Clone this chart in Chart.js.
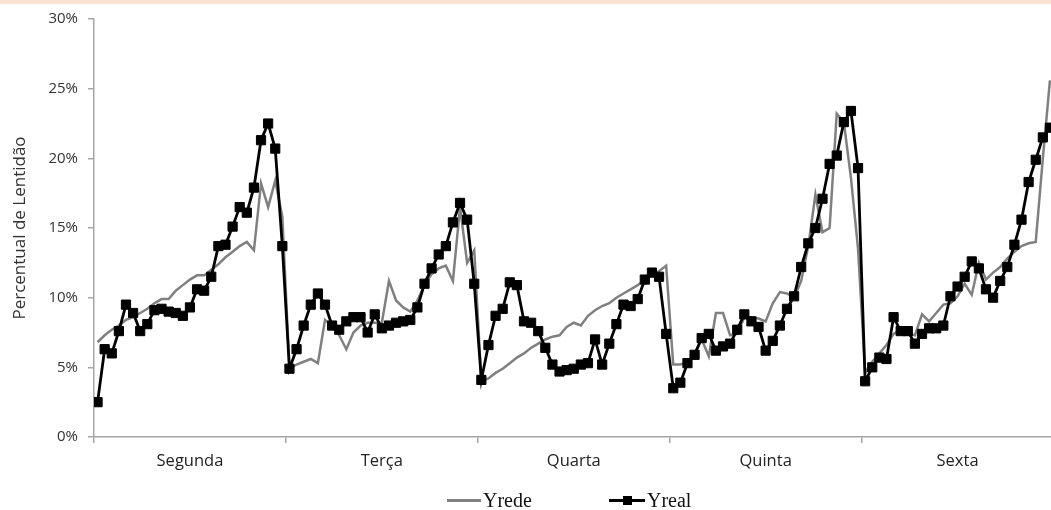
<!DOCTYPE html>
<html lang="pt">
<head>
<meta charset="UTF-8">
<title>Percentual de Lentidão</title>
<script src="https://cdn.jsdelivr.net/npm/chart.js"></script>
<style>
  html, body { margin: 0; padding: 0; background: #fff; overflow: hidden; }
  #band { position: absolute; left: 0; top: 0; width: 1051px; height: 4px; background: #fbe2d2; }
  #wrap { position: absolute; left: 0; top: 0; width: 1061px; height: 510px; }
  #legend { position: absolute; left: 0; top: 488px; width: 1051px; height: 24px;
            font-family: 'Liberation Serif', 'Times New Roman', serif; font-size: 20px; color: #111; }
  .item { position: absolute; top: 0; height: 24px; display: flex; align-items: center; }
  .swatch { position: relative; height: 3px; margin-right: 2px; }
  .swatch .mark { position: absolute; left: 14px; top: -3px; width: 9px; height: 9px; background: #000; }
</style>
</head>
<body>
<div id="band"></div>
<div id="wrap"><canvas id="chart" width="1061" height="510"></canvas></div>
<div id="legend">
  <div class="item" style="left:447px"><span class="swatch" style="width:34px;background:#808080"></span>Yrede</div>
  <div class="item" style="left:609px"><span class="swatch" style="width:36px;background:#000"><span class="mark"></span></span>Yreal</div>
</div>
<script>
// 27 readings per weekday, values in %
const days = ['Segunda', 'Terça', 'Quarta', 'Quinta', 'Sexta'];
const perDay = 27;
const yTicks = [0, 5, 10, 15, 20, 25, 30];

const yrede = [
  6.8, 7.3, 7.7, 8.0, 8.4, 8.6, 8.9, 9.2, 9.6, 9.9, 9.9, 10.5, 10.9, 11.3, 11.6, 11.6, 12.0, 12.4, 12.9, 13.3, 13.7, 14.0, 13.4, 18.2, 16.5, 18.4, 15.8,
  4.9, 5.2, 5.4, 5.6, 5.3, 8.4, 8.0, 7.3, 6.3, 7.5, 8.0, 8.2, 8.2, 8.2, 11.2, 9.8, 9.3, 9.0, 9.8, 10.9, 11.7, 12.1, 12.3, 11.2, 16.5, 12.5, 13.4,
  4.0, 4.2, 4.6, 4.9, 5.3, 5.7, 6.0, 6.4, 6.7, 7.0, 7.2, 7.3, 7.9, 8.2, 8.0, 8.7, 9.1, 9.4, 9.6, 10.0, 10.3, 10.6, 10.9, 11.3, 11.6, 11.9, 12.3,
  5.2, 5.2, 5.4, 6.0, 7.0, 5.8, 8.9, 8.9, 7.3, 7.4, 8.6, 8.6, 8.5, 8.3, 9.6, 10.4, 10.3, 10.0, 11.2, 13.7, 17.4, 14.7, 15.0, 23.2, 22.6, 18.6, 13.5,
  4.6, 5.4, 6.0, 6.6, 7.4, 7.7, 7.4, 7.3, 8.8, 8.3, 8.9, 9.5, 9.6, 10.1, 11.0, 10.2, 12.5, 11.3, 11.8, 12.2, 12.8, 13.3, 13.7, 13.9, 14.0, 20.0, 25.6
];

const yreal = [
  2.5, 6.3, 6.0, 7.6, 9.5, 8.9, 7.6, 8.1, 9.1, 9.2, 9.0, 8.9, 8.7, 9.3, 10.6, 10.5, 11.5, 13.7, 13.8, 15.1, 16.5, 16.1, 17.9, 21.3, 22.5, 20.7, 13.7,
  4.9, 6.3, 8.0, 9.5, 10.3, 9.5, 8.0, 7.7, 8.3, 8.6, 8.6, 7.5, 8.8, 7.8, 8.0, 8.2, 8.3, 8.4, 9.3, 11.0, 12.1, 13.1, 13.7, 15.4, 16.8, 15.6, 11.0,
  4.1, 6.6, 8.7, 9.2, 11.1, 10.9, 8.3, 8.2, 7.6, 6.4, 5.2, 4.7, 4.8, 4.9, 5.2, 5.3, 7.0, 5.2, 6.7, 8.1, 9.5, 9.4, 9.9, 11.3, 11.8, 11.5, 7.4,
  3.5, 3.9, 5.3, 5.9, 7.1, 7.4, 6.2, 6.5, 6.7, 7.7, 8.8, 8.3, 7.9, 6.2, 6.9, 8.0, 9.2, 10.1, 12.2, 13.9, 15.0, 17.1, 19.6, 20.2, 22.6, 23.4, 19.3,
  4.0, 5.0, 5.7, 5.6, 8.6, 7.6, 7.6, 6.7, 7.4, 7.8, 7.8, 8.0, 10.1, 10.8, 11.5, 12.6, 12.1, 10.6, 10.0, 11.2, 12.2, 13.8, 15.6, 18.3, 19.9, 21.5, 22.2
];

const toPoints = arr => arr.map((v, i) => ({ x: i, y: v }));
const axisGray = '#a6a6a6';
const sansFont = "'Open Sans', 'Noto Sans', sans-serif";

new Chart(document.getElementById('chart'), {
  type: 'line',
  data: {
    datasets: [{
      label: 'Yrede',
      data: toPoints(yrede),
      borderColor: '#808080',
      borderWidth: 2.5,
      pointRadius: 0,
      order: 1
    }, {
      label: 'Yreal',
      data: toPoints(yreal),
      borderColor: '#000',
      backgroundColor: '#000',
      borderWidth: 2.8,
      pointStyle: 'rect',
      pointRadius: 6.5,
      pointBorderWidth: 1,
      order: 0
    }]
  },
  options: {
    responsive: false,
    animation: false,
    devicePixelRatio: 1,
    layout: { padding: { top: 19, bottom: 39, left: 0, right: 2 } },
    plugins: { legend: { display: false }, tooltip: { enabled: false } },
    scales: {
      x: {
        type: 'linear',
        display: false,
        min: -0.5,
        max: days.length * perDay - 0.5
      },
      days: {
        type: 'category',
        position: 'bottom',
        labels: days,
        offset: true,
        afterFit: s => { s.height = 34; s.paddingLeft = 0; s.paddingRight = 0; },
        grid: { offset: true, drawOnChartArea: false, tickLength: 6, color: axisGray, lineWidth: 1.5 },
        border: { color: axisGray, width: 1.5 },
        ticks: { padding: 8, color: '#222', font: { family: sansFont, size: 16.5 } }
      },
      y: {
        min: 0,
        max: 30,
        afterFit: s => { s.width = 94; },
        afterBuildTicks: s => { s.ticks = yTicks.map(v => ({ value: v })); },
        grid: { drawOnChartArea: false, tickLength: 6, color: axisGray, lineWidth: 1.5 },
        border: { color: axisGray, width: 1.5 },
        ticks: { padding: 10, color: '#333', font: { family: sansFont, size: 15 }, callback: v => v + '%' },
        title: {
          display: true,
          text: 'Percentual de Lentidão',
          color: '#333',
          font: { family: sansFont, size: 17 },
          padding: { top: 10, bottom: 0 }
        }
      }
    }
  }
});
</script>
</body>
</html>
